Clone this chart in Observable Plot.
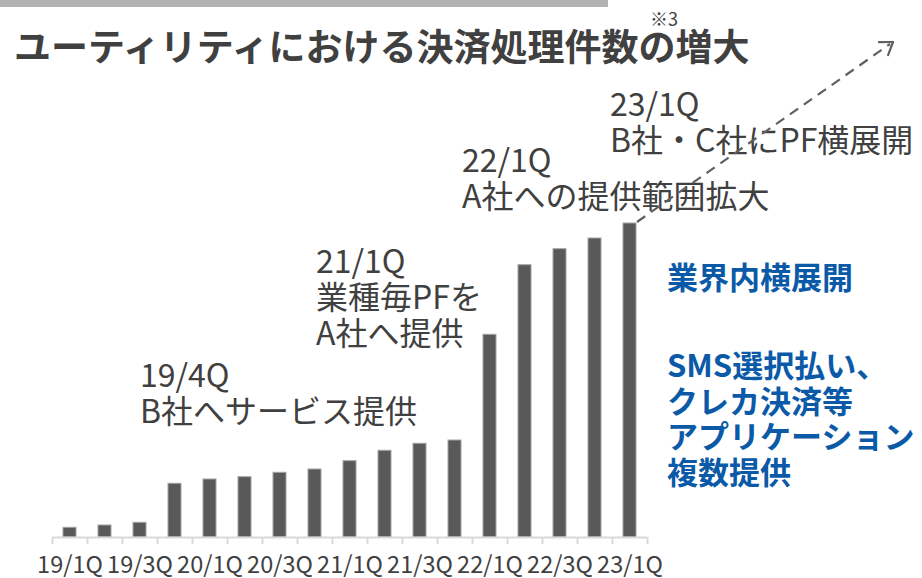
<!DOCTYPE html>
<html><head><meta charset="utf-8">
<script src="https://cdn.jsdelivr.net/npm/d3@7"></script>
<script src="https://cdn.jsdelivr.net/npm/@observablehq/plot@0.6"></script>
<style>
body{margin:0;background:#fff;font-family:"Noto Sans CJK JP",sans-serif;}
#wrap{position:relative;width:922px;height:578px;overflow:hidden;background:#fff;}
#chart{position:absolute;left:0;top:0;}
.abs{position:absolute;white-space:nowrap;}
.note{font-size:32px;line-height:36px;color:#404040;}
.blue{font-size:31px;line-height:35.5px;color:#0b5aa8;font-weight:bold;}
#title{font-size:37px;line-height:37px;font-weight:bold;color:#404040;}
#ref{font-size:18px;line-height:18px;color:#404040;}
#arrow{position:absolute;left:0;top:0;}
</style></head><body>
<div id="wrap">
  <div id="chart"></div>
  <div class="abs" style="left:0;top:0;width:608px;height:7px;background:#b3b3b3"></div>
  <div class="abs" id="title" style="left:14px;top:27px">ユーティリティにおける決済処理件数の増大</div>
  <div class="abs" id="ref" style="left:650px;top:9px">※3</div>
  <div class="abs note" style="left:140px;top:355px">19/4Q<br>B社へサービス提供</div>
  <div class="abs note" style="left:316px;top:241px">21/1Q<br>業種毎PFを<br>A社へ提供</div>
  <div class="abs note" style="left:462px;top:140px">22/1Q<br>A社への提供範囲拡大</div>
  <div class="abs note" style="left:610px;top:84px">23/1Q<br>B社・C社にPF横展開</div>
  <div class="abs blue" style="left:667px;top:258px">業界内横展開</div>
  <div class="abs blue" style="left:667px;top:346px">SMS選択払い、<br>クレカ決済等<br>アプリケーション<br>複数提供</div>
  <svg id="arrow" width="922" height="578"></svg>
</div>
<script>
const quarters = ["19/1Q","19/2Q","19/3Q","19/4Q","20/1Q","20/2Q","20/3Q","20/4Q","21/1Q","21/2Q","21/3Q","21/4Q","22/1Q","22/2Q","22/3Q","22/4Q","23/1Q"];
const values = [9.7,12,14.7,53.7,58,60.3,64.7,68,76.3,86.7,93.7,97,202.7,272.3,288.3,299,314];
const tickLabels = ["19/1Q","19/3Q","20/1Q","20/3Q","21/1Q","21/3Q","22/1Q","22/3Q","23/1Q"];

const data = quarters.map((q, i) => ({q, v: values[i]}));
const step = 35;

const plot = Plot.plot({
  width: 922, height: 578,
  marginLeft: 52, marginRight: 275, marginTop: 223, marginBottom: 41,
  x: {domain: quarters, paddingInner: 0.63, paddingOuter: 0.315, label: null},
  y: {domain: [0, 314], axis: null},
  style: {fontFamily: "'Noto Sans CJK JP', sans-serif", background: "transparent", color: "#404040", overflow: "visible"},
  marks: [
    Plot.barY(data, {x: "q", y: "v", fill: "#595959", stroke: "#a3a3a3", strokeWidth: 1}),
    Plot.ruleY([0], {stroke: "#d9d9d9", strokeWidth: 2}),
    Plot.axisX({ticks: quarters, tickSize: 7, dx: -step/2, text: null, stroke: "#d9d9d9", strokeWidth: 2, label: null}),
    Plot.axisX({ticks: [quarters[quarters.length-1]], tickSize: 7, dx: step/2, text: null, stroke: "#d9d9d9", strokeWidth: 2, label: null}),
    Plot.axisX({ticks: tickLabels, tickSize: 0, tickPadding: 19, fontSize: 23.5, fill: "#404040", label: null})
  ]
});
document.getElementById("chart").appendChild(plot);

// dashed growth arrow from the top of the last bar
const xs = plot.scale("x"), ys = plot.scale("y");
const last = quarters.length - 1;
const x0 = xs.apply(quarters[last]) + xs.bandwidth + 1, y0 = ys.apply(values[last]) - 1;
const x1 = 893, y1 = 42;
const svg = d3.select("#arrow");
svg.append("line").attr("x1", x0).attr("y1", y0).attr("x2", x1 - 3).attr("y2", y1 + 2)
  .attr("stroke", "#606060").attr("stroke-width", 2.2).attr("stroke-dasharray", "10 7");
const ang = Math.atan2(y1 - y0, x1 - x0);
for (const s of [-1, 1]) {
  const a = ang + Math.PI + s * 0.6;
  svg.append("line").attr("x1", x1).attr("y1", y1)
    .attr("x2", x1 + 14 * Math.cos(a)).attr("y2", y1 + 14 * Math.sin(a))
    .attr("stroke", "#606060").attr("stroke-width", 2.2).attr("stroke-linecap", "round");
}
</script>
</body></html>
